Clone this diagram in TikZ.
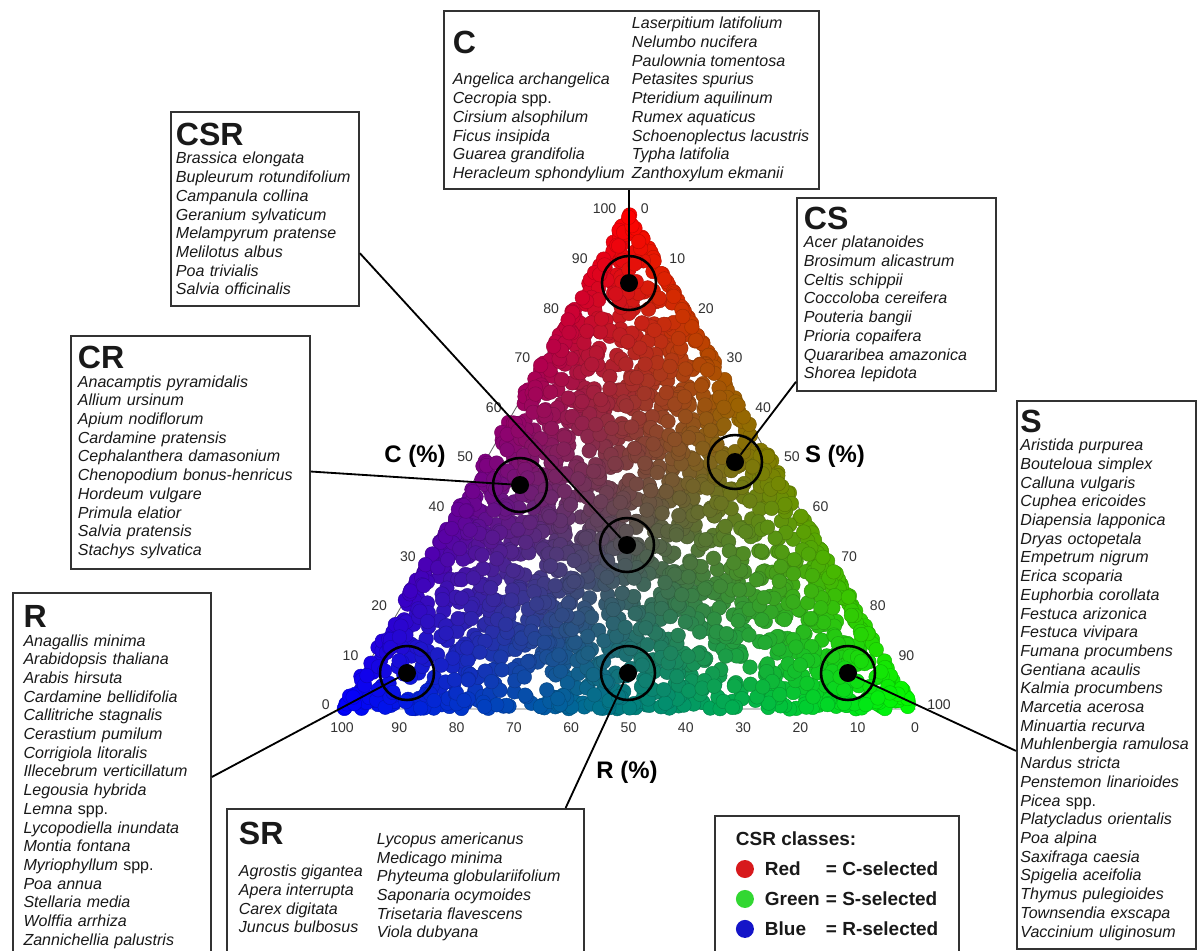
\documentclass[tikz,border=0pt]{standalone}
\usepackage{fontspec}
\setmainfont{Liberation Sans}
\newcommand{\itemfont}{\fontsize{11.4}{13.3}\selectfont\itshape}
\newcommand{\headfont}{\fontsize{22.8}{24}\selectfont\bfseries\upshape}
\newcommand{\lift}[1]{\raisebox{3.5pt}[0pt][0pt]{#1}}
\newcommand{\legdot}[1]{\tikz[baseline=-0.36em]\fill[#1] (0,0) circle (0.225cm);}
\newcommand{\plantdot}[2]{%
  \pgfmathsetmacro{\fracR}{max(0,1-#1-#2)}%
  \definecolor{cloudcol}{rgb}{#1,#2,\fracR}%
  \filldraw[fill=cloudcol, draw=cloudcol!80!black, line width=0.3pt]
    ({342*\fracR+915*#2+628.5*#1},{709-496*#1}) circle[radius=7.3];}
\definecolor{legred}{RGB}{215,25,28}
\definecolor{leggreen}{RGB}{50,215,50}
\definecolor{legblue}{RGB}{20,20,200}
\begin{document}
\begin{tikzpicture}[x=0.025cm, y=-0.025cm,
  boxframe/.style={draw=black!80, line width=1.3pt, fill=white, anchor=north west, text=black!90, font=\itemfont},
  listbox/.style={boxframe, align=left, inner ysep=0.1cm},
  edgeline/.style={draw=black!60, line width=0.6pt},
  ticklabel/.style={inner sep=0pt, text=black!80, font=\fontsize{10}{12}\selectfont},
  axtitle/.style={inner sep=0pt, font=\fontsize{17}{20}\selectfont\bfseries},
  ring/.style={circle, draw=black, line width=1.8pt, inner sep=0pt, minimum size=1.35cm},
  hub/.style={circle, fill=black, inner sep=0pt, minimum size=0.45cm},
  link/.style={draw=black, line width=1.3pt}]
\path[use as bounding box, fill=white] (0,0) rectangle (1197,950);
\clip (0,0) rectangle (1197,950);
\coordinate (rcorner) at (342,709);
\coordinate (scorner) at (915,709);
\coordinate (ccorner) at (628.5,213);
\draw[edgeline] (rcorner) -- (scorner) -- (ccorner) -- cycle;
\pgfmathsetseed{2718}
\foreach \k in {1,...,100}{
  \pgfmathsetmacro{\fracC}{rnd}
  \pgfmathsetmacro{\fracS}{0.02*rnd}
  \plantdot{\fracC}{\fracS}
}
\foreach \k in {1,...,90}{
  \pgfmathsetmacro{\fracC}{0.02*rnd}
  \pgfmathsetmacro{\fracS}{rnd*(1-\fracC)}
  \plantdot{\fracC}{\fracS}
}
\foreach \k in {1,...,100}{
  \pgfmathsetmacro{\fracC}{rnd}
  \pgfmathsetmacro{\fracS}{(1-\fracC)*(1-0.02*rnd)}
  \plantdot{\fracC}{\fracS}
}
\foreach \k in {1,...,1900}{
  \pgfmathsetmacro{\ru}{rnd}
  \pgfmathsetmacro{\rv}{rnd}
  \pgfmathsetmacro{\fracC}{\ru+\rv>1 ? 1-\ru : \ru}
  \pgfmathsetmacro{\fracS}{\ru+\rv>1 ? 1-\rv : \rv}
  \plantdot{\fracC}{\fracS}
}
\foreach \v in {0,10,...,100}{
  \node[ticklabel, anchor=east] (ctick\v) at ({330+2.865*\v},{705-4.96*\v}) {\v};
  \node[ticklabel, anchor=west] (stick\v) at ({640.5+2.865*\v},{209+4.96*\v}) {\v};
  \node[ticklabel, anchor=north] (rtick\v) at ({915-5.73*\v},722) {\v};
}
\node[axtitle] (ctitle) at (415,456) {C (\%)};
\node[axtitle] (stitle) at (835,456) {S (\%)};
\node[axtitle] (rtitle) at (627,772) {R (\%)};
\foreach \nm/\cx/\cy in {c/629/283, cr/520/485, csr/627/545, cs/735/462, r/407/673, sr/628/673, s/848/673}{
  \node[ring] (ring\nm) at (\cx,\cy) {};
  \node[hub] (dot\nm) at (\cx,\cy) {};
}
\node[boxframe, inner xsep=0pt, inner ysep=0.12cm] (cbox) at (443,10) {\begin{tabular}{@{\hspace{0.225cm}}p{4.475cm}@{}p{4.675cm}@{}}
 & Laserpitium latifolium\\
\smash{\raisebox{-4.5pt}{\headfont C}} & Nelumbo nucifera\\
 & Paulownia tomentosa\\
Angelica archangelica & Petasites spurius\\
Cecropia {\upshape spp.} & Pteridium aquilinum\\
Cirsium alsophilum & Rumex aquaticus\\
Ficus insipida & Schoenoplectus lacustris\\
Guarea grandifolia & Typha latifolia\\
Heracleum sphondylium & Zanthoxylum ekmanii
\end{tabular}};
\node[listbox, text width=4.45cm, inner xsep=0.125cm, minimum height=4.85cm] (csrbox) at (170,111) {{\headfont CSR}\\
Brassica elongata\\ Bupleurum rotundifolium\\ Campanula collina\\ Geranium sylvaticum\\
Melampyrum pratense\\ Melilotus albus\\ Poa trivialis\\ Salvia officinalis};
\node[listbox, text width=4.625cm, inner xsep=0.175cm, minimum height=4.825cm] (csbox) at (796,197) {{\headfont CS}\\
Acer platanoides\\ Brosimum alicastrum\\ Celtis schippii\\ Coccoloba cereifera\\
Pouteria bangii\\ Prioria copaifera\\ Quararibea amazonica\\ Shorea lepidota};
\node[listbox, text width=5.625cm, inner xsep=0.175cm, minimum height=5.825cm] (crbox) at (70,335) {{\headfont CR}\\
Anacamptis pyramidalis\\ Allium ursinum\\ Apium nodiflorum\\ Cardamine pratensis\\
Cephalanthera damasonium\\ Chenopodium bonus-henricus\\ Hordeum vulgare\\ Primula elatior\\
Salvia pratensis\\ Stachys sylvatica};
\node[listbox, text width=4.42cm, inner xsep=0.265cm, minimum height=9.2cm] (rbox) at (12,592) {{\headfont R}\\
Anagallis minima\\ Arabidopsis thaliana\\ Arabis hirsuta\\ Cardamine bellidifolia\\
Callitriche stagnalis\\ Cerastium pumilum\\ Corrigiola litoralis\\ Illecebrum verticillatum\\
Legousia hybrida\\ Lemna {\upshape spp.}\\ Lycopodiella inundata\\ Montia fontana\\
Myriophyllum {\upshape spp.}\\ Poa annua\\ Stellaria media\\ Wolffia arrhiza\\ Zannichellia palustris};
\node[boxframe, inner xsep=0pt, inner ysep=0.325cm] (srbox) at (226,808) {\begin{tabular}{@{\hspace{0.3cm}}p{3.45cm}@{}p{5.175cm}@{}}
{\headfont SR} & Lycopus americanus\\
 & Medicago minima\\
\lift{Agrostis gigantea} & Phyteuma globulariifolium\\
\lift{Apera interrupta} & Saponaria ocymoides\\
\lift{Carex digitata} & Trisetaria flavescens\\
\lift{Juncus bulbosus} & Viola dubyana
\end{tabular}};
\node[listbox, text width=4.3cm, inner xsep=0.0875cm, minimum height=13.7cm] (sbox) at (1016,400) {{\headfont S}\\
Aristida purpurea\\ Bouteloua simplex\\ Calluna vulgaris\\ Cuphea ericoides\\
Diapensia lapponica\\ Dryas octopetala\\ Empetrum nigrum\\ Erica scoparia\\
Euphorbia corollata\\ Festuca arizonica\\ Festuca vivipara\\ Fumana procumbens\\
Gentiana acaulis\\ Kalmia procumbens\\ Marcetia acerosa\\ Minuartia recurva\\
Muhlenbergia ramulosa\\ Nardus stricta\\ Penstemon linarioides\\ Picea {\upshape spp.}\\
Platycladus orientalis\\ Poa alpina\\ Saxifraga caesia\\ Spigelia aceifolia\\
Thymus pulegioides\\ Townsendia exscapa\\ Vaccinium uliginosum};
\node[boxframe, font=\fontsize{13.5}{21.3}\selectfont\bfseries\upshape, inner xsep=0.525cm, inner ysep=0.225cm] (legend) at (714,815) {\begin{tabular}{@{}c@{\hspace{0.275cm}}p{1.525cm}@{}l@{}}
\multicolumn{3}{@{}l@{}}{CSR classes:}\\
\legdot{legred} & Red & = C-selected\\
\legdot{leggreen} & Green & = S-selected\\
\legdot{legblue} & Blue & = R-selected
\end{tabular}};
\draw[link] (cbox.south -| dotc) -- (dotc);
\draw[link] (csrbox.-25) -- (dotcsr);
\draw[link] (crbox.-9) -- (dotcr);
\draw[link] (csbox.221) -- (dotcs);
\draw[link] (rbox.east) -- (dotr);
\draw[link] (srbox.25) -- (dotsr);
\draw[link] (sbox.220) -- (dots);
\end{tikzpicture}
\end{document}
